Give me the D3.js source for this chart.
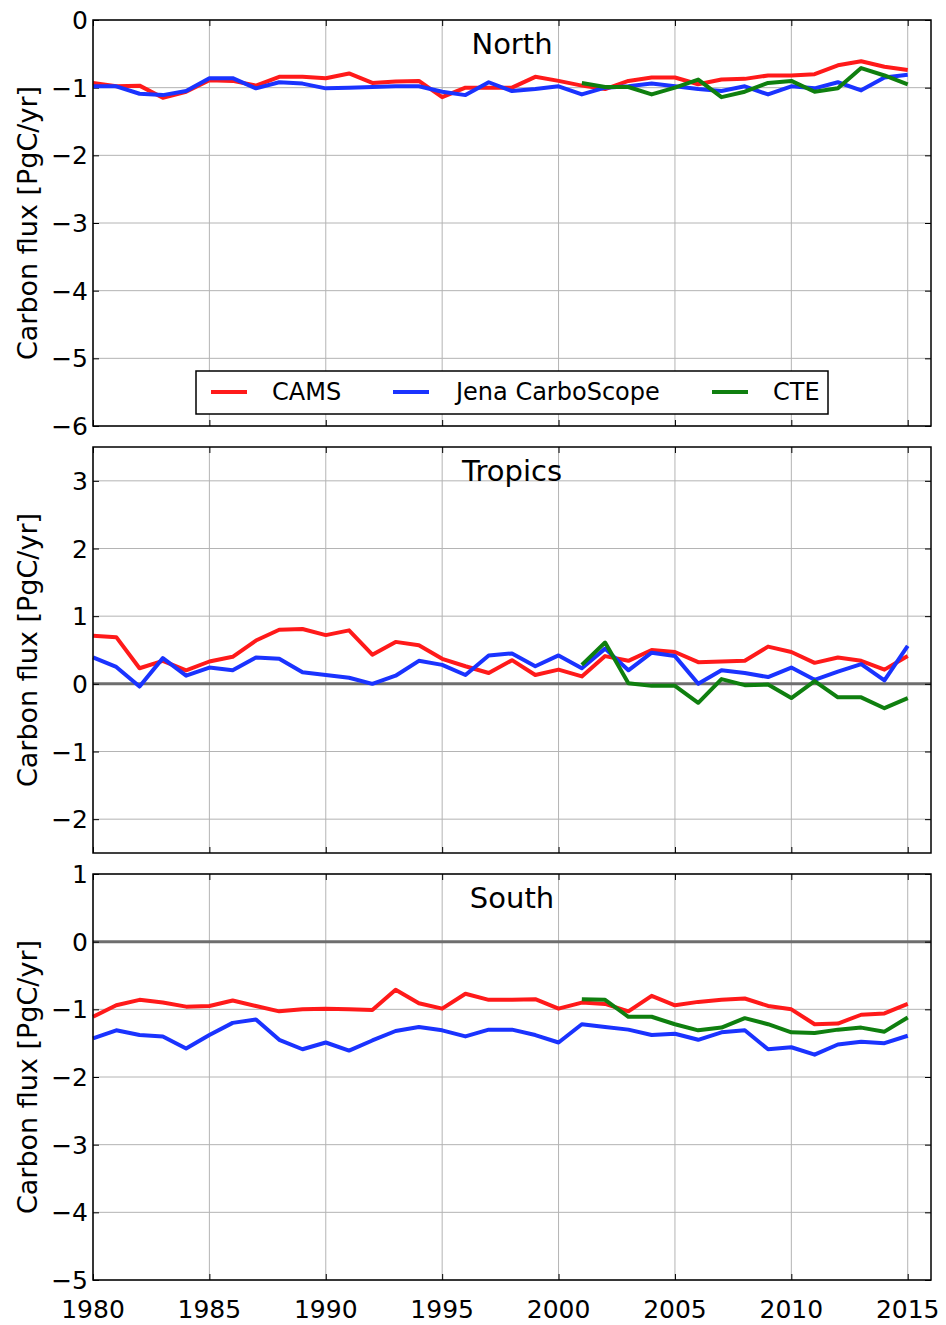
<!DOCTYPE html>
<html>
<head>
<meta charset="utf-8">
<script src="https://cdn.jsdelivr.net/npm/d3@7"></script>
<style>
  html, body { margin: 0; padding: 0; background: #fff; }
  svg { display: block; font-family: "DejaVu Sans", sans-serif; }
</style>
</head>
<body>
<svg id="chart" width="946" height="1325"></svg>
<script>
// Annual carbon flux by latitude band, three inversion systems
const years = [1980, 1981, 1982, 1983, 1984, 1985, 1986, 1987, 1988, 1989,
               1990, 1991, 1992, 1993, 1994, 1995, 1996, 1997, 1998, 1999,
               2000, 2001, 2002, 2003, 2004, 2005, 2006, 2007, 2008, 2009,
               2010, 2011, 2012, 2013, 2014, 2015];
const cteYears = [2001, 2002, 2003, 2004, 2005, 2006, 2007, 2008,
                  2009, 2010, 2011, 2012, 2013, 2014, 2015];

const northCAMS = [-0.93, -0.98, -0.97, -1.15, -1.06, -0.89, -0.90, -0.97, -0.84, -0.84,
                   -0.86, -0.79, -0.93, -0.91, -0.90, -1.14, -1.00, -1.00, -1.00, -0.84,
                   -0.90, -0.97, -1.02, -0.90, -0.85, -0.85, -0.95, -0.88, -0.87, -0.82,
                   -0.82, -0.80, -0.67, -0.61, -0.69, -0.74];
const northJena = [-0.98, -0.98, -1.09, -1.11, -1.05, -0.86, -0.86, -1.01, -0.92, -0.94,
                   -1.01, -1.00, -0.99, -0.98, -0.98, -1.06, -1.11, -0.92, -1.05, -1.02,
                   -0.98, -1.10, -1.00, -0.98, -0.94, -0.98, -1.02, -1.05, -0.98, -1.10,
                   -0.98, -1.01, -0.92, -1.04, -0.85, -0.81];
const northCTE = [-0.93, -0.99, -0.99, -1.10, -1.00, -0.88, -1.14, -1.06,
                  -0.93, -0.90, -1.06, -1.01, -0.71, -0.82, -0.95];

const tropicsCAMS = [0.71, 0.69, 0.23, 0.34, 0.20, 0.33, 0.40, 0.64, 0.80, 0.81,
                     0.72, 0.79, 0.43, 0.62, 0.57, 0.37, 0.26, 0.16, 0.35, 0.13,
                     0.21, 0.11, 0.41, 0.34, 0.50, 0.47, 0.32, 0.33, 0.34, 0.55,
                     0.47, 0.31, 0.39, 0.34, 0.21, 0.41];
const tropicsJena = [0.39, 0.25, -0.04, 0.38, 0.12, 0.24, 0.20, 0.39, 0.37, 0.17,
                     0.13, 0.09, 0.00, 0.12, 0.34, 0.28, 0.13, 0.42, 0.45, 0.26,
                     0.42, 0.23, 0.52, 0.20, 0.46, 0.41, 0.00, 0.20, 0.16, 0.10,
                     0.24, 0.06, 0.18, 0.29, 0.05, 0.56];
const tropicsCTE = [0.28, 0.61, 0.01, -0.03, -0.03, -0.28, 0.07, -0.02,
                    -0.01, -0.21, 0.04, -0.20, -0.20, -0.36, -0.21];

const southCAMS = [-1.11, -0.94, -0.86, -0.90, -0.96, -0.95, -0.87, -0.95, -1.03, -1.00,
                   -0.99, -1.00, -1.01, -0.71, -0.91, -0.99, -0.77, -0.86, -0.86, -0.85,
                   -0.99, -0.90, -0.92, -1.03, -0.80, -0.94, -0.89, -0.86, -0.84, -0.95,
                   -1.00, -1.22, -1.21, -1.08, -1.06, -0.92];
const southJena = [-1.43, -1.31, -1.38, -1.40, -1.58, -1.38, -1.20, -1.15, -1.45, -1.59,
                   -1.49, -1.61, -1.46, -1.32, -1.26, -1.31, -1.40, -1.30, -1.30, -1.38,
                   -1.49, -1.22, -1.26, -1.30, -1.38, -1.36, -1.45, -1.34, -1.31, -1.59,
                   -1.56, -1.67, -1.52, -1.48, -1.50, -1.39];
const southCTE = [-0.85, -0.86, -1.11, -1.11, -1.22, -1.31, -1.27, -1.13,
                  -1.22, -1.34, -1.35, -1.30, -1.27, -1.33, -1.12];

const xTicks = [1980, 1985, 1990, 1995, 2000, 2005, 2010, 2015];
const seriesNames = ["CAMS", "Jena CarboScope", "CTE"];
const seriesColors = ["#ff1a1a", "#1a33ff", "#0f7f0f"];

const panels = [
  { title: "North",   domain: [-6, 0],     ticks: [-6, -5, -4, -3, -2, -1, 0],
    data: [northCAMS, northJena, northCTE], zeroLine: false, legend: true },
  { title: "Tropics", domain: [-2.5, 3.5], ticks: [-2, -1, 0, 1, 2, 3],
    data: [tropicsCAMS, tropicsJena, tropicsCTE], zeroLine: true, legend: false },
  { title: "South",   domain: [-5, 1],     ticks: [-5, -4, -3, -2, -1, 0, 1],
    data: [southCAMS, southJena, southCTE], zeroLine: true, legend: false }
];

const svg = d3.select("#chart");
const left = 93, right = 931;
const panelH = 406;
const tops = [20, 447, 874];

const x = d3.scaleLinear().domain([1980, 2016]).range([left, right]);
const fmt = d3.format("d");

panels.forEach((p, i) => {
  const top = tops[i], bottom = top + panelH;
  const y = d3.scaleLinear().domain(p.domain).range([bottom, top]);
  const g = svg.append("g");

  // grid
  g.append("g").selectAll("line").data(xTicks).join("line")
    .attr("x1", d => x(d)).attr("x2", d => x(d))
    .attr("y1", top).attr("y2", bottom)
    .attr("stroke", "#b4b4b4").attr("stroke-width", 1);
  g.append("g").selectAll("line").data(p.ticks).join("line")
    .attr("x1", left).attr("x2", right)
    .attr("y1", d => y(d)).attr("y2", d => y(d))
    .attr("stroke", "#b4b4b4").attr("stroke-width", 1);

  if (p.zeroLine) {
    g.append("line")
      .attr("x1", left).attr("x2", right)
      .attr("y1", y(0)).attr("y2", y(0))
      .attr("stroke", "#6e6e6e").attr("stroke-width", 3);
  }

  // inward ticks on all four sides
  const yl = d3.axisLeft(y).tickValues(p.ticks).tickSize(-6).tickFormat("");
  const yr = d3.axisRight(y).tickValues(p.ticks).tickSize(-6).tickFormat("");
  const xb = d3.axisBottom(x).tickValues(xTicks).tickSize(-6).tickFormat("");
  const xt = d3.axisTop(x).tickValues(xTicks).tickSize(-6).tickFormat("");
  [[yl, `translate(${left},0)`], [yr, `translate(${right},0)`],
   [xb, `translate(0,${bottom})`], [xt, `translate(0,${top})`]].forEach(([ax, tr]) => {
    const a = g.append("g").attr("transform", tr).call(ax);
    a.select(".domain").remove();
    a.selectAll("line").attr("stroke", "#000").attr("stroke-width", 1);
  });

  // y tick labels
  g.append("g").selectAll("text").data(p.ticks).join("text")
    .attr("x", left - 5).attr("y", d => y(d))
    .attr("dy", "0.36em")
    .attr("text-anchor", "end")
    .attr("font-size", 25)
    .attr("fill", "#000")
    .text(d => fmt(d));

  // series lines
  const line = d3.line().x(d => x(d[0])).y(d => y(d[1]));
  p.data.forEach((vals, k) => {
    const xs = k === 2 ? cteYears : years;
    g.append("path")
      .datum(xs.map((yr, j) => [yr, vals[j]]))
      .attr("d", line)
      .attr("fill", "none")
      .attr("stroke", seriesColors[k])
      .attr("stroke-width", 4)
      .attr("stroke-linejoin", "round");
  });

  // frame
  g.append("rect")
    .attr("x", left).attr("y", top)
    .attr("width", right - left).attr("height", panelH)
    .attr("fill", "none").attr("stroke", "#000").attr("stroke-width", 1.5);

  // title
  g.append("text")
    .attr("x", (left + right) / 2).attr("y", top + 34)
    .attr("text-anchor", "middle")
    .attr("font-size", 29)
    .attr("fill", "#000")
    .text(p.title);

  // y axis label
  g.append("text")
    .attr("transform", `translate(37,${(top + bottom) / 2}) rotate(-90)`)
    .attr("text-anchor", "middle")
    .attr("font-size", 27)
    .attr("fill", "#000")
    .text("Carbon flux [PgC/yr]");

  if (p.legend) {
    const lg = g.append("g");
    lg.append("rect")
      .attr("x", 196).attr("y", 371).attr("width", 632).attr("height", 43)
      .attr("fill", "#fff").attr("stroke", "#000").attr("stroke-width", 1.5);
    const lineX = [211, 393, 712];
    const textX = [272, 456, 773];
    seriesNames.forEach((name, k) => {
      lg.append("line")
        .attr("x1", lineX[k]).attr("x2", lineX[k] + 36)
        .attr("y1", 392).attr("y2", 392)
        .attr("stroke", seriesColors[k]).attr("stroke-width", 4);
      lg.append("text")
        .attr("x", textX[k]).attr("y", 400)
        .attr("font-size", 24)
        .attr("fill", "#000")
        .text(name);
    });
  }

  // x tick labels only under the last panel
  if (i === panels.length - 1) {
    g.append("g").selectAll("text").data(xTicks).join("text")
      .attr("x", d => x(d)).attr("y", bottom + 38)
      .attr("text-anchor", "middle")
      .attr("font-size", 25)
      .attr("fill", "#000")
      .text(d => fmt(d));
  }
});
</script>
</body>
</html>
